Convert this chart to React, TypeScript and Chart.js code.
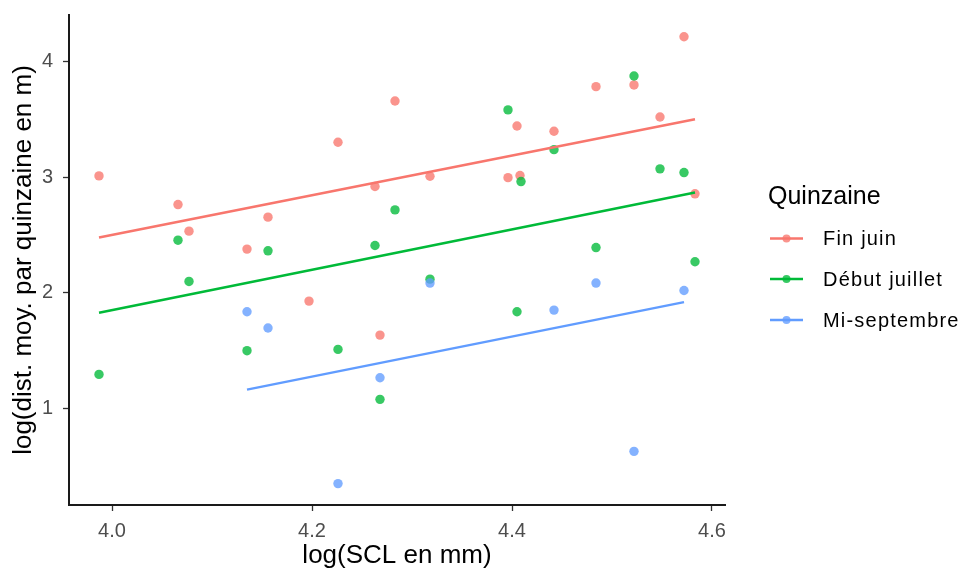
import { useEffect, useRef } from "react";
import { Chart, registerables } from "chart.js";

Chart.register(...registerables);

const FONT = '"Liberation Sans", Arial, sans-serif';

const groups = ["Fin juin", "Début juillet", "Mi-septembre"];
const groupColors = ["#F8766D", "#00BA38", "#619CFF"];
const pointColors = ["rgba(248,118,109,0.78)", "rgba(0,186,56,0.78)", "rgba(97,156,255,0.78)"];
const legendTitle = "Quinzaine";
const xTitle = "log(SCL en mm)";
const yTitle = "log(dist. moy. par quinzaine en m)";

const xTicks = [4.0, 4.2, 4.4, 4.6];
const yTicks = [1, 2, 3, 4];

// Fin juin
const finJuinX = [3.987, 4.066, 4.077, 4.135, 4.156, 4.197, 4.226, 4.263, 4.268, 4.283, 4.318, 4.396, 4.405, 4.408, 4.442, 4.484, 4.522, 4.548, 4.572, 4.583];
const finJuinY = [3.012, 2.764, 2.534, 2.379, 2.655, 1.929, 3.303, 2.920, 1.635, 3.660, 3.009, 2.997, 3.444, 3.015, 3.398, 3.784, 3.799, 3.522, 4.216, 2.857];
// Début juillet
const debutJuilletX = [3.987, 4.066, 4.077, 4.135, 4.156, 4.226, 4.263, 4.268, 4.283, 4.318, 4.396, 4.405, 4.409, 4.442, 4.484, 4.522, 4.548, 4.572, 4.583];
const debutJuilletY = [1.295, 2.456, 2.099, 1.500, 2.364, 1.511, 2.410, 1.079, 2.718, 2.119, 3.583, 1.837, 2.963, 3.239, 2.392, 3.876, 3.073, 3.041, 2.269];
// Mi-septembre
const miSeptembreX = [4.135, 4.156, 4.226, 4.268, 4.318, 4.442, 4.484, 4.522, 4.572];
const miSeptembreY = [1.837, 1.696, 0.350, 1.266, 2.085, 1.851, 2.085, 0.629, 2.021];

// Fitted regression lines (end points)
const finJuinFitX = [3.987, 4.583];
const finJuinFitY = [2.479, 3.502];
const debutJuilletFitX = [3.987, 4.583];
const debutJuilletFitY = [1.828, 2.868];
const miSeptembreFitX = [4.135, 4.572];
const miSeptembreFitY = [1.163, 1.920];

const xMin = 3.957;
const xMax = 4.613;
const yMin = 0.165;
const yMax = 4.404;

function toPoints(xs: number[], ys: number[]) {
  return xs.map((x, i) => ({ x, y: ys[i] }));
}

const legendPlugin = {
  id: "ggLegend",
  afterDraw(chart: any) {
    const ctx = chart.ctx as CanvasRenderingContext2D;
    ctx.save();
    ctx.fillStyle = "#000";
    ctx.font = `25px ${FONT}`;
    ctx.textAlign = "left";
    ctx.textBaseline = "alphabetic";
    ctx.fillText(legendTitle, 768, 204);
    const rows = [238.5, 279, 320];
    groups.forEach((g, i) => {
      const y = rows[i];
      ctx.strokeStyle = groupColors[i];
      ctx.lineWidth = 2.4;
      ctx.beginPath();
      ctx.moveTo(770, y);
      ctx.lineTo(803, y);
      ctx.stroke();
      ctx.fillStyle = pointColors[i];
      ctx.beginPath();
      ctx.arc(786.5, y, 4, 0, Math.PI * 2);
      ctx.fill();
      ctx.fillStyle = "#000";
      ctx.font = `20px ${FONT}`;
      (ctx as any).letterSpacing = "1.2px";
      ctx.textBaseline = "middle";
      ctx.fillText(g, 823, y + 1);
      (ctx as any).letterSpacing = "0px";
    });
    ctx.restore();
  },
};

export default function App() {
  const canvasRef = useRef<HTMLCanvasElement | null>(null);

  useEffect(() => {
    if (!canvasRef.current) return;
    const pointSets = [
      toPoints(finJuinX, finJuinY),
      toPoints(debutJuilletX, debutJuilletY),
      toPoints(miSeptembreX, miSeptembreY),
    ];
    const fitSets = [
      toPoints(finJuinFitX, finJuinFitY),
      toPoints(debutJuilletFitX, debutJuilletFitY),
      toPoints(miSeptembreFitX, miSeptembreFitY),
    ];
    const datasets: any[] = [];
    groups.forEach((g, i) => {
      datasets.push({
        label: g,
        type: "scatter",
        data: pointSets[i],
        backgroundColor: pointColors[i],
        borderWidth: 0,
        pointRadius: 4.7,
        pointHoverRadius: 4.7,
        order: 3 - i,
      });
    });
    groups.forEach((g, i) => {
      datasets.push({
        label: g + " (fit)",
        type: "scatter",
        data: fitSets[i],
        showLine: true,
        borderColor: groupColors[i],
        borderWidth: 2.5,
        pointRadius: 0,
        pointHoverRadius: 0,
        fill: false,
        order: 0,
      });
    });

    const chart = new Chart(canvasRef.current, {
      type: "scatter",
      data: { datasets },
      options: {
        responsive: false,
        animation: false,
        devicePixelRatio: 1,
        layout: { padding: { top: 15, right: 239, left: 0, bottom: 0 } },
        plugins: {
          legend: { display: false },
          tooltip: { enabled: false },
        },
        scales: {
          x: {
            type: "linear",
            position: "bottom",
            min: xMin,
            max: xMax,
            afterBuildTicks: (s: any) => {
              s.ticks = xTicks.map((v) => ({ value: v }));
            },
            afterFit: (s: any) => {
              s.height = 66;
              s.paddingLeft = 0;
              s.paddingRight = 0;
            },
            grid: {
              display: true,
              drawOnChartArea: false,
              drawTicks: true,
              tickLength: 6,
              tickWidth: 1.3,
              tickColor: "#333",
            },
            border: { display: true, color: "#1a1a1a", width: 2 },
            ticks: {
              color: "#4D4D4D",
              font: { size: 20, family: FONT },
              padding: 8,
              maxRotation: 0,
              autoSkip: false,
              callback: (v: any) => Number(v).toFixed(1),
            },
            title: {
              display: true,
              text: xTitle,
              color: "#000",
              font: { size: 26, family: FONT },
              padding: { top: 0, bottom: 0 },
            },
          },
          y: {
            type: "linear",
            min: yMin,
            max: yMax,
            afterBuildTicks: (s: any) => {
              s.ticks = yTicks.map((v) => ({ value: v }));
            },
            afterFit: (s: any) => {
              s.width = 69;
              s.paddingTop = 0;
              s.paddingBottom = 0;
            },
            grid: {
              display: true,
              drawOnChartArea: false,
              drawTicks: true,
              tickLength: 6,
              tickWidth: 1.3,
              tickColor: "#333",
            },
            border: { display: true, color: "#1a1a1a", width: 2 },
            ticks: {
              color: "#4D4D4D",
              font: { size: 20, family: FONT },
              padding: 10,
              callback: (v: any) => String(v),
            },
            title: {
              display: true,
              text: yTitle,
              color: "#000",
              font: { size: 26, family: FONT },
              padding: { top: 8, bottom: 0 },
            },
          },
        },
      },
      plugins: [legendPlugin],
    } as any);
    return () => chart.destroy();
  }, []);

  return (
    <div style={{ position: "fixed", left: 0, top: 0, width: 964, height: 571, background: "#fff" }}>
      <canvas ref={canvasRef} width={964} height={571} style={{ display: "block" }} />
    </div>
  );
}
